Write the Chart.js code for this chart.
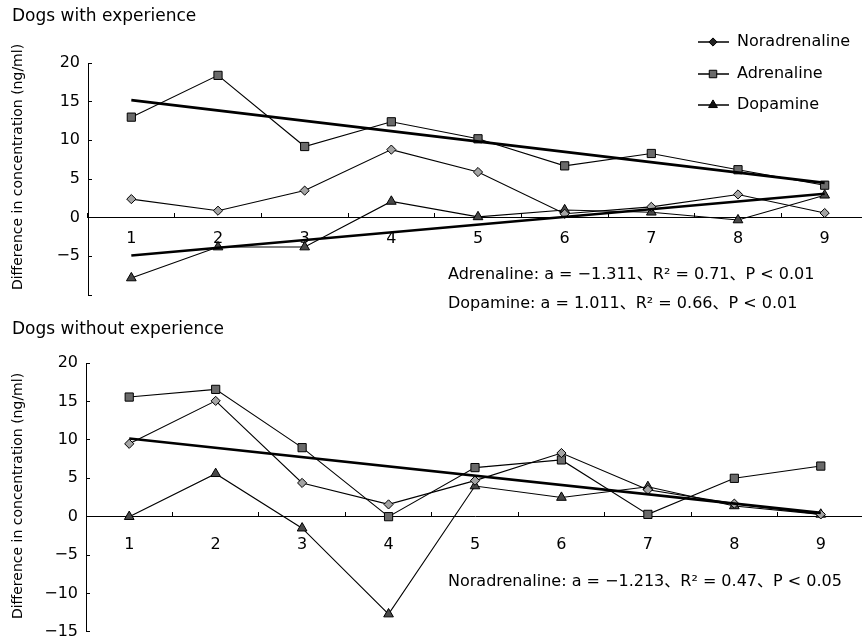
<!DOCTYPE html>
<html>
<head>
<meta charset="utf-8">
<script src="https://cdn.jsdelivr.net/npm/chart.js@4.4.1/dist/chart.umd.min.js"></script>
<style>
  html, body { margin: 0; padding: 0; background: #fff; width: 862px; height: 643px; overflow: hidden; }
  .panel { position: absolute; left: 0; width: 880px; }
</style>
</head>
<body>
<div class="panel" style="top:0;height:320px"><canvas id="expChart"></canvas></div>
<div class="panel" style="top:320px;height:323px"><canvas id="noexpChart"></canvas></div>
<script>
const fontFamily = '"DejaVu Sans", "Noto Sans CJK JP", sans-serif';

const days = ['1', '2', '3', '4', '5', '6', '7', '8', '9'];
const names = ['Noradrenaline', 'Adrenaline', 'Dopamine'];

// Dogs with experience
const expNor = [2.4, 0.9, 3.5, 8.8, 5.9, 0.5, 1.4, 3.0, 0.6];
const expAdr = [13.0, 18.4, 9.2, 12.4, 10.2, 6.7, 8.3, 6.2, 4.2];
const expDop = [-7.8, -3.8, -3.8, 2.1, 0.1, 1.0, 0.7, -0.3, 2.9];
const expAdrTrend = [15.2, 4.5];   // regression line at day 1 and day 9
const expDopTrend = [-4.9, 3.1];
const expYTicks = [-10, -5, 0, 5, 10, 15, 20];
const expYLabels = [-5, 0, 5, 10, 15, 20];

// Dogs without experience
const noexpNor = [9.5, 15.1, 4.4, 1.6, 4.7, 8.3, 3.5, 1.7, 0.3];
const noexpAdr = [15.6, 16.6, 9.0, 0.0, 6.4, 7.4, 0.3, 5.0, 6.6];
const noexpDop = [0.0, 5.6, -1.5, -12.7, 4.0, 2.5, 3.9, 1.4, 0.3];
const noexpNorTrend = [10.2, 0.5];
const noexpYTicks = [-15, -10, -5, 0, 5, 10, 15, 20];
const noexpYLabels = [-15, -10, -5, 0, 5, 10, 15, 20];

const yTitle = 'Difference in concentration (ng/ml)';

Chart.defaults.font.family = fontFamily;
Chart.defaults.color = '#000';

const marker = {
  Noradrenaline: { pointStyle: 'rectRot', radius: 4.6, fill: '#a4a4a4', legendFill: '#222' },
  Adrenaline: { pointStyle: 'rect', radius: 5.8, fill: '#6a6a6a', legendFill: '#6a6a6a' },
  Dopamine: { pointStyle: 'triangle', radius: 5.6, fill: '#484848', legendFill: '#111' }
};

function seriesSet(label, values) {
  const m = marker[label];
  return {
    label: label,
    data: values,
    borderColor: '#000',
    borderWidth: 1.1,
    pointStyle: m.pointStyle,
    pointRadius: m.radius,
    pointBackgroundColor: m.fill,
    pointBorderColor: '#000',
    pointBorderWidth: 1,
    tension: 0,
    fill: false
  };
}

function trendSet(ends) {
  const data = days.map(() => null);
  data[0] = ends[0];
  data[days.length - 1] = ends[1];
  return {
    label: 'trend',
    data: data,
    spanGaps: true,
    borderColor: '#000',
    borderWidth: 2.6,
    pointRadius: 0,
    order: -1
  };
}

// titles, y title, stats text and legend
const notesPlugin = {
  id: 'notes',
  afterDraw(chart, args, opts) {
    const ctx = chart.ctx;
    ctx.save();
    ctx.fillStyle = '#000';
    ctx.textBaseline = 'middle';
    (opts.texts || []).forEach(t => {
      ctx.save();
      ctx.font = t.size + 'px ' + fontFamily;
      ctx.translate(t.x, t.y);
      if (t.rotate) ctx.rotate(t.rotate);
      ctx.textAlign = t.align || 'left';
      ctx.fillText(t.text, 0, 0);
      ctx.restore();
    });
    if (opts.legend) {
      const lg = opts.legend;
      names.forEach((name, i) => {
        const y = lg.rows[i];
        const m = marker[name];
        ctx.strokeStyle = '#000';
        ctx.lineWidth = 1.5;
        ctx.beginPath();
        ctx.moveTo(lg.x, y);
        ctx.lineTo(lg.x + 31, y);
        ctx.stroke();
        ctx.fillStyle = m.legendFill;
        ctx.lineWidth = 1;
        Chart.helpers.drawPoint(ctx, { pointStyle: m.pointStyle, radius: m.radius - 0.5, rotation: 0, borderWidth: 1 }, lg.x + 15, y);
        ctx.fillStyle = '#000';
        ctx.font = '16px ' + fontFamily;
        ctx.textAlign = 'left';
        ctx.fillText(name, lg.x + 39, y);
      });
    }
    ctx.restore();
  }
};

function buildOptions(cfg) {
  return {
    responsive: true,
    maintainAspectRatio: false,
    animation: false,
    layout: { padding: { top: cfg.top, right: cfg.right, bottom: cfg.bottom, left: 0 } },
    plugins: {
      legend: { display: false },
      tooltip: { enabled: false },
      notes: cfg.notes
    },
    scales: {
      x: {
        type: 'category',
        position: { y: 0 },
        offset: true,
        grid: { offset: true, drawOnChartArea: false, drawTicks: true, tickLength: -5, color: '#000', lineWidth: 1 },
        border: { color: '#000', width: 1 },
        ticks: { padding: cfg.xPad, color: '#000', font: { size: 16 }, maxRotation: 0, autoSkip: false }
      },
      y: {
        min: cfg.yTicks[0],
        max: cfg.yTicks[cfg.yTicks.length - 1],
        afterBuildTicks: s => { s.ticks = cfg.yTicks.map(v => ({ value: v })); },
        afterFit: s => {
          s.width = cfg.axisLeft;
          // keep the plot area where the padding puts it
          s.paddingTop = 0;
          s.paddingBottom = 0;
        },
        grid: { drawOnChartArea: false, drawTicks: true, tickLength: -4, color: '#000', lineWidth: 1 },
        border: { color: '#000', width: 1 },
        ticks: {
          padding: 12,
          color: '#000',
          font: { size: 16 },
          callback: v => cfg.yLabels.includes(v) ? String(v).replace('-', '\u2212') : ''
        }
      }
    }
  };
}

new Chart(document.getElementById('expChart'), {
  type: 'line',
  data: {
    labels: days,
    datasets: [
      trendSet(expAdrTrend),
      trendSet(expDopTrend),
      seriesSet('Noradrenaline', expNor),
      seriesSet('Adrenaline', expAdr),
      seriesSet('Dopamine', expDop)
    ]
  },
  options: buildOptions({
    top: 63, bottom: 25, right: 12, axisLeft: 88, xPad: 17,
    yTicks: expYTicks, yLabels: expYLabels,
    notes: {
      texts: [
        { text: 'Dogs with experience', x: 12, y: 17, size: 17 },
        { text: yTitle, x: 18, y: 167, size: 14, align: 'center', rotate: -Math.PI / 2 },
        { text: 'Adrenaline: a = \u22121.311\u3001R\u00b2 = 0.71\u3001P < 0.01', x: 448, y: 275, size: 16 },
        { text: 'Dopamine: a = 1.011\u3001R\u00b2 = 0.66\u3001P < 0.01', x: 448, y: 304, size: 16 }
      ],
      legend: { x: 698, rows: [42, 74, 105] }
    }
  }),
  plugins: [notesPlugin]
});

new Chart(document.getElementById('noexpChart'), {
  type: 'line',
  data: {
    labels: days,
    datasets: [
      trendSet(noexpNorTrend),
      seriesSet('Noradrenaline', noexpNor),
      seriesSet('Adrenaline', noexpAdr),
      seriesSet('Dopamine', noexpDop)
    ]
  },
  options: buildOptions({
    top: 43.3, bottom: 11.3, right: 16, axisLeft: 86, xPad: 23.7,
    yTicks: noexpYTicks, yLabels: noexpYLabels,
    notes: {
      texts: [
        { text: 'Dogs without experience', x: 12, y: 10, size: 17 },
        { text: yTitle, x: 18, y: 176, size: 14, align: 'center', rotate: -Math.PI / 2 },
        { text: 'Noradrenaline: a = \u22121.213\u3001R\u00b2 = 0.47\u3001P < 0.05', x: 448, y: 262, size: 16 }
      ]
    }
  }),
  plugins: [notesPlugin]
});
</script>
</body>
</html>
